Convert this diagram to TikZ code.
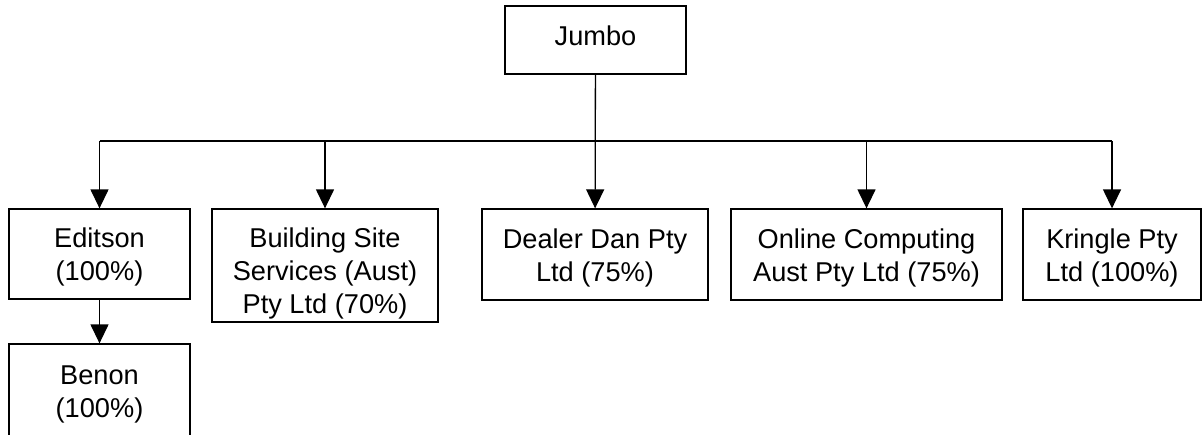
\documentclass[tikz,border=0pt]{standalone}
\usepackage{fontspec}
\setmainfont{Liberation Sans}
\usetikzlibrary{arrows.meta,positioning}

\begin{document}
\begin{tikzpicture}[x=0.5pt,y=-0.5pt,
  company/.style={draw,line width=0.65pt,align=center,inner sep=0pt,
    font=\fontsize{13.6}{16.5}\selectfont},
  link/.style={line width=0.65pt,-{Triangle[width=9pt,length=9.5pt]}}]
\useasboundingbox (0,0) rectangle (1202,434);
\clip (0,0) rectangle (1202,434);
% parent
\node[company,minimum width=90.5pt,minimum height=34pt] (jumbo) at (595.5,40)
  {Jumbo\rule[-4.3pt]{0pt}{0pt}};
% subsidiaries
\node[company,minimum width=90.5pt,minimum height=45pt] (editson) at (99.5,254)
  {\rule{0pt}{12.9pt}Editson\\(100\%)};
\node[company,minimum width=113pt,minimum height=56.5pt] (building) at (325,265.5)
  {\rule{0pt}{17.9pt}Building Site\\Services (Aust)\\Pty Ltd (70\%)};
\node[company,minimum width=113pt,minimum height=45.5pt] (dealer) at (595,254.5)
  {\rule{0pt}{12.9pt}Dealer Dan Pty\\Ltd (75\%)};
\node[company,minimum width=135.5pt,minimum height=45.5pt] (online) at (866.5,254.5)
  {\rule{0pt}{12.9pt}Online Computing\\Aust Pty Ltd (75\%)};
\node[company,minimum width=89pt,minimum height=45.5pt] (kringle) at (1112,254.5)
  {\rule{0pt}{12.9pt}Kringle Pty\\Ltd (100\%)};
\node[company,minimum width=90.5pt,minimum height=50pt] (benon) at (99.5,394)
  {Benon\\(100\%)};
% connectors
\coordinate (trunk) at (595.5,141);
\draw[line width=0.65pt] (trunk -| editson.north) -- (trunk -| kringle.north);
\draw[link] (jumbo) -- (dealer);
\foreach \n in {editson,building,online,kringle}
  \draw[link] (trunk -| \n.north) -- (\n.north);
\draw[link] (editson) -- (benon);
\end{tikzpicture}
\end{document}
